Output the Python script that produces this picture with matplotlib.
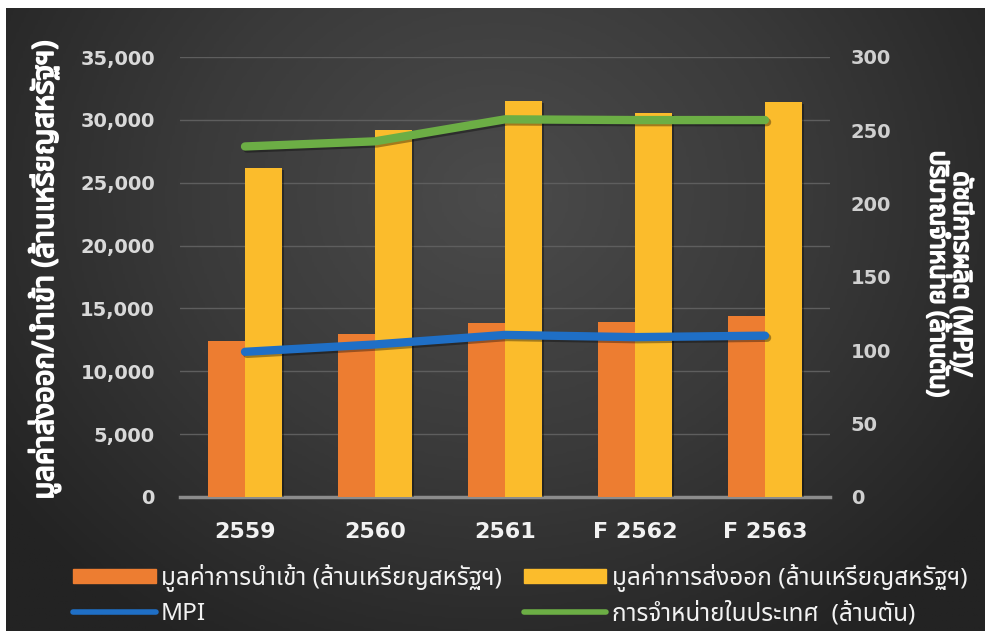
import matplotlib
matplotlib.use('Agg')
import matplotlib.pyplot as plt
import matplotlib.patheffects as pe
import numpy as np
from matplotlib import font_manager
from matplotlib.ft2font import FT2Font
from matplotlib.patches import Patch
from matplotlib.lines import Line2D
from matplotlib.colors import LinearSegmentedColormap


years = ['2559', '2560', '2561', 'F 2562', 'F 2563']
imports = [12400, 12950, 13850, 13900, 14400]     # orange bars
exports = [26150, 29200, 31500, 30550, 31450]     # yellow bars
mpi = [99, 104, 110.5, 109, 110]                  # blue line, right axis
domestic = [239, 242.5, 257.5, 257, 257]          # green line, right axis

left_ticks = [0, 5000, 10000, 15000, 20000, 25000, 30000, 35000]
right_ticks = [0, 50, 100, 150, 200, 250, 300]

label_imports = 'มูลค่าการนำเข้า (ล้านเหรียญสหรัฐฯ)'
label_exports = 'มูลค่าการส่งออก (ล้านเหรียญสหรัฐฯ)'
label_mpi = 'MPI'
label_domestic = 'การจำหน่ายในประเทศ  (ล้านตัน)'
ylabel_left = 'มูลค่าส่งออก/นำเข้า (ล้านเหรียญสหรัฐฯ)'
ylabel_right = 'ดัชนีการผลิต (MPI)/\nปริมาณจำหน่าย (ล้านตัน)'


def find_thai_font():
    names = []
    for f in font_manager.fontManager.ttflist:
        try:
            if 0x0E01 in FT2Font(f.fname).get_charmap():
                names.append(f.name)
        except Exception:
            continue
    for pref in ['Tahoma', 'Leelawadee UI', 'Noto Sans Thai', 'Loma', 'Garuda',
                 'Sarabun', 'Waree', 'Umpush', 'Kinnari', 'Norasi']:
        if pref in names:
            return pref
    return names[0] if names else 'DejaVu Sans'


thai = find_thai_font()
thai_family = [thai, 'DejaVu Sans']
fake_bold = [pe.withStroke(linewidth=1.3, foreground='white')]

W, H = 985, 631
fig = plt.figure(figsize=(W / 100, H / 100), dpi=100, facecolor='white')

# dark radial background
bg = fig.add_axes([6 / W, 0, 1 - 6 / W, (H - 8) / H], zorder=-5)
gx, gy = np.meshgrid(np.linspace(0, 1, 400), np.linspace(0, 1, 260))
r = np.sqrt(((gx - 0.5) / 0.62) ** 2 + ((gy - 0.3) / 0.85) ** 2)
cmap = LinearSegmentedColormap.from_list('bg', ['#4b4b4b', '#3a3a3a', '#232323'])
bg.imshow(np.clip(r, 0, 1), cmap=cmap, aspect='auto', extent=(0, 1, 1, 0))
bg.axis('off')

ax = fig.add_axes([180 / W, (H - 497) / H, 650 / W, 440 / H])
ax.set_facecolor('none')
x = np.arange(len(years))
w = 0.285
shadow = [pe.SimplePatchShadow(offset=(1.5, -1.5), shadow_rgbFace='black', alpha=0.35), pe.Normal()]
ax.bar(x - w / 2, imports, w, color='#ED7D31', zorder=3, path_effects=shadow)
ax.bar(x + w / 2, exports, w, color='#FBBC2C', zorder=3, path_effects=shadow)

ax.set_xlim(-0.5, 4.5)
ax.set_ylim(0, 35000)
ax.set_yticks(left_ticks)
ax.set_yticklabels([f'{v:,}' for v in left_ticks])
ax.set_xticks(x)
ax.set_xticklabels(years)
ax.grid(axis='y', color='#5e5e5e', lw=1, zorder=0)
for s in ['top', 'right', 'left']:
    ax.spines[s].set_visible(False)
ax.spines['bottom'].set_color('#8c8c8c')
ax.spines['bottom'].set_linewidth(2.5)
ax.tick_params(axis='y', length=0, pad=18, labelsize=14, labelcolor='#d9d9d9')
ax.tick_params(axis='x', length=0, pad=18, labelsize=16, labelcolor='#f2f2f2')
for t in ax.get_yticklabels() + ax.get_xticklabels():
    t.set_fontweight('bold')

ax2 = ax.twinx()
ax2.set_ylim(0, 300)
ax2.set_yticks(right_ticks)
for s in ax2.spines.values():
    s.set_visible(False)
ax2.tick_params(axis='y', length=0, pad=15, labelsize=14, labelcolor='#d0d0d0')
for t in ax2.get_yticklabels():
    t.set_fontweight('bold')
line_fx = [pe.SimpleLineShadow(offset=(1.5, -1.5), alpha=0.35), pe.Normal()]
ax2.plot(x, domestic, color='#6CAE45', lw=6, solid_capstyle='round', zorder=4, path_effects=line_fx)
ax2.plot(x, mpi, color='#1F6FC6', lw=6, solid_capstyle='round', zorder=4, path_effects=line_fx)

fig.text(45 / W, 0.572, ylabel_left, rotation=90, ha='center', va='center',
         color='white', fontsize=21, fontweight='bold', family=thai_family,
         path_effects=fake_bold)
fig.text(949 / W, 0.566, ylabel_right, rotation=-90, ha='center', va='center',
         color='white', fontsize=18, fontweight='bold', family=thai_family,
         multialignment='center', linespacing=0.9, path_effects=fake_bold)

handles = [Patch(color='#ED7D31'),
           Line2D([], [], color='#1F6FC6', lw=4, solid_capstyle='round'),
           Patch(color='#FBBC2C'),
           Line2D([], [], color='#6CAE45', lw=4, solid_capstyle='round')]
labels = [label_imports, label_mpi, label_exports, label_domestic]
leg = fig.legend(handles, labels, ncol=2, loc='lower left', bbox_to_anchor=(73 / W, 5 / H),
                 frameon=False, handlelength=3.4, handleheight=0.5, handletextpad=0.22,
                 columnspacing=0.9, labelspacing=0.4, borderpad=0, borderaxespad=0,
                 prop={'family': thai_family, 'size': 17.5})
for t in leg.get_texts():
    t.set_color('#f2f2f2')

fig.savefig('out.png', dpi=100, facecolor=fig.get_facecolor())
